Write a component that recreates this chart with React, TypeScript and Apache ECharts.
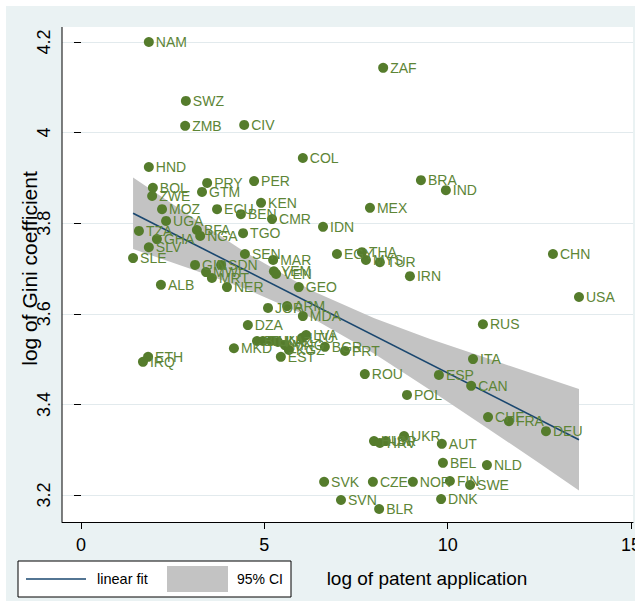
import React, { useEffect, useRef } from "react";
import * as echarts from "echarts";

const countries = [
  "NAM", "ZAF", "SWZ", "ZMB", "CIV", "COL", "HND", "BRA", "PER", "PRY",
  "IND", "BOL", "GTM", "ZWE", "KEN", "MEX", "MOZ", "ECU", "BEN", "CMR",
  "UGA", "IDN", "TZA", "BFA", "NGA", "TGO", "GHA", "SLV", "SLE", "SEN",
  "MAR", "EGY", "THA", "MYS", "TUR", "IRN", "CHN", "USA", "ALB", "GIN",
  "SDN", "MWI", "MRT", "NER", "YEM", "VEN", "GEO", "JOR", "ARM", "MDA",
  "DZA", "MKD", "BIH", "TUN", "LKA", "KAZ", "MNG", "KGZ", "EST", "LVA",
  "LTU", "BGR", "PRT", "ROU", "ETH", "IRQ", "POL", "ESP", "ITA", "RUS",
  "CAN", "CHE", "FRA", "DEU", "UKR", "AUT", "HUN", "HRV", "ISR", "BEL",
  "NLD", "SVK", "CZE", "NOR", "FIN", "SWE", "SVN", "DNK", "BLR",
];
const patentLog = [
  1.85, 8.24, 2.86, 2.84, 4.45, 6.05, 1.85, 9.27, 4.72, 3.44,
  9.95, 1.96, 3.30, 1.94, 4.91, 7.88, 2.21, 3.71, 4.36, 5.21,
  2.32, 6.60, 1.58, 3.16, 3.25, 4.42, 2.07, 1.85, 1.42, 4.47,
  5.24, 6.98, 7.66, 7.77, 8.15, 8.97, 12.87, 13.58, 2.18, 3.11,
  3.82, 3.41, 3.57, 3.98, 5.26, 5.32, 5.94, 5.10, 5.62, 6.05,
  4.55, 4.17, 4.80, 4.96, 5.18, 5.37, 5.56, 5.67, 5.45, 6.14,
  6.03, 6.65, 7.20, 7.74, 1.83, 1.69, 8.89, 9.76, 10.69, 10.96,
  10.64, 11.10, 11.67, 12.68, 8.81, 9.84, 7.99, 8.15, 8.31, 9.87,
  11.07, 6.63, 7.96, 9.05, 10.06, 10.61, 7.09, 9.82, 8.13,
];
const giniLog = [
  4.200, 4.143, 4.070, 4.015, 4.017, 3.944, 3.924, 3.895, 3.893, 3.889,
  3.873, 3.878, 3.869, 3.860, 3.845, 3.834, 3.831, 3.831, 3.820, 3.809,
  3.805, 3.792, 3.783, 3.785, 3.772, 3.778, 3.765, 3.747, 3.723, 3.732,
  3.719, 3.732, 3.736, 3.719, 3.714, 3.683, 3.732, 3.637, 3.664, 3.708,
  3.708, 3.692, 3.679, 3.659, 3.694, 3.688, 3.659, 3.613, 3.617, 3.595,
  3.575, 3.524, 3.540, 3.540, 3.540, 3.538, 3.531, 3.520, 3.505, 3.553,
  3.547, 3.527, 3.518, 3.467, 3.505, 3.494, 3.421, 3.465, 3.500, 3.577,
  3.441, 3.372, 3.363, 3.341, 3.330, 3.313, 3.319, 3.315, 3.319, 3.271,
  3.266, 3.229, 3.229, 3.229, 3.231, 3.222, 3.189, 3.191, 3.169,
];

// linear fit end points and 95% CI band
const fitX = [1.42, 13.58];
const fitY = [3.822, 3.322];
const ciX = [1.42, 3, 4.5, 6.3, 8, 9.5, 11, 12.5, 13.58];
const ciUpper = [3.901, 3.815, 3.735, 3.651, 3.590, 3.545, 3.504, 3.463, 3.434];
const ciLower = [3.743, 3.699, 3.655, 3.591, 3.512, 3.433, 3.352, 3.270, 3.210];

const xTicks = [0, 5, 10, 15];

const FONT = "'Liberation Sans', Arial, sans-serif";
const DOT = "#557c2c";
const LABEL = "#5d8536";
const NAVY = "#1a476f";
const BAND = "#c3c3c3";

export default function App() {
  const ref = useRef<HTMLDivElement>(null);
  useEffect(() => {
    if (!ref.current) return;
    const chart = echarts.init(ref.current, undefined, { renderer: "svg" });
    const scatterData = countries.map((c, i) => ({ name: c, value: [patentLog[i], giniLog[i]] }));
    chart.setOption({
      animation: false,
      backgroundColor: "#ffffff",
      grid: { left: 62, right: 2, top: 42, bottom: 106, containLabel: false, outerBoundsMode: "none" },
      xAxis: {
        type: "value",
        min: -0.518,
        max: 15.053,
        offset: 27,
        axisLine: { show: true, lineStyle: { color: "#000", width: 1 } },
        axisTick: { show: true, length: 7, customValues: xTicks, lineStyle: { color: "#000" } },
        axisLabel: { customValues: xTicks, color: "#000", fontSize: 18, fontFamily: FONT, margin: 14 },
        splitLine: { show: false },
      },
      yAxis: {
        type: "value",
        min: 3.2,
        max: 4.2,
        interval: 0.2,
        axisLine: { show: false },
        axisTick: { show: true, length: 7, lineStyle: { color: "#000" } },
        axisLabel: {
          rotate: 90,
          color: "#000",
          fontSize: 18,
          fontFamily: FONT,
          margin: 9,
          formatter: (v: number) => String(Math.round(v * 10) / 10),
        },
        splitLine: { show: true, lineStyle: { color: "#e2eaed", width: 1 } },
        name: "log of Gini coefficient",
        nameLocation: "middle",
        nameGap: 22,
        nameMoveOverlap: false,
        nameTextStyle: { color: "#000", fontSize: 21, fontFamily: FONT },
      },
      graphic: [
        { type: "rect", z: -100, shape: { x: 6, y: 6, width: 629, height: 595 }, style: { fill: "#eaf2f3" } },
        { type: "rect", z: -99, shape: { x: 62, y: 27, width: 571, height: 495 }, style: { fill: "#ffffff" } },
        { type: "line", z: 10, shape: { x1: 62, y1: 27, x2: 62, y2: 522 }, style: { stroke: "#000", lineWidth: 1 } },
        {
          type: "text",
          z: 10,
          style: {
            text: "log of patent application",
            x: 427,
            y: 578,
            align: "center",
            verticalAlign: "middle",
            fontSize: 19,
            fontFamily: FONT,
            fill: "#000",
          },
        },
        {
          type: "group",
          z: 10,
          children: [
            { type: "rect", shape: { x: 18, y: 561, width: 273, height: 36 }, style: { fill: "#fff", stroke: "#000", lineWidth: 1 } },
            { type: "line", shape: { x1: 26, y1: 579, x2: 86, y2: 579 }, style: { stroke: NAVY, lineWidth: 1.5 } },
            {
              type: "text",
              style: { text: "linear fit", x: 97, y: 579, verticalAlign: "middle", fontSize: 14.5, fontFamily: FONT, fill: "#000" },
            },
            { type: "rect", shape: { x: 167, y: 566, width: 61, height: 26 }, style: { fill: BAND } },
            {
              type: "text",
              style: { text: "95% CI", x: 237, y: 579, verticalAlign: "middle", fontSize: 14, fontFamily: FONT, fill: "#000" },
            },
          ],
        },
      ],
      series: [
        {
          type: "custom",
          z: 1,
          silent: true,
          data: ciX.map((x, i) => [x, ciUpper[i], ciLower[i]]),
          encode: { x: 0, y: 1 },
          renderItem: (params: any, api: any) => {
            if (params.dataIndex !== 0) return null;
            const pts: number[][] = [];
            for (let i = 0; i < ciX.length; i++) pts.push(api.coord([ciX[i], ciUpper[i]]));
            for (let i = ciX.length - 1; i >= 0; i--) pts.push(api.coord([ciX[i], ciLower[i]]));
            return { type: "polygon", shape: { points: pts }, style: { fill: BAND } };
          },
        },
        {
          type: "line",
          z: 2,
          data: fitX.map((x, i) => [x, fitY[i]]),
          symbol: "none",
          lineStyle: { color: NAVY, width: 1.6 },
        },
        {
          type: "scatter",
          z: 3,
          clip: false,
          data: scatterData,
          symbolSize: 10,
          itemStyle: { color: DOT, opacity: 1 },
          label: {
            show: true,
            position: "right",
            distance: 2,
            formatter: "{b}",
            color: LABEL,
            fontSize: 14,
            fontFamily: FONT,
          },
        },
      ],
    });
    return () => chart.dispose();
  }, []);
  return <div ref={ref} style={{ position: "absolute", left: 0, top: 0, width: 635, height: 601 }} />;
}
